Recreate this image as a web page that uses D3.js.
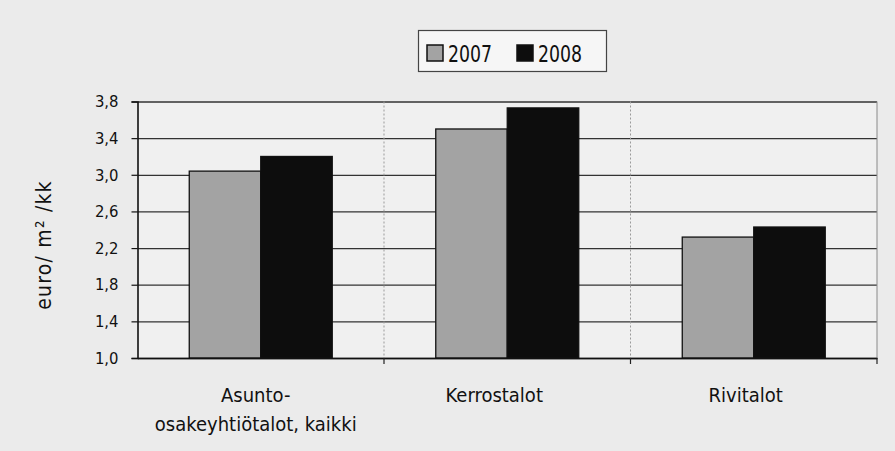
<!DOCTYPE html>
<html>
<head>
<meta charset="utf-8">
<script src="https://cdn.jsdelivr.net/npm/d3@7"></script>
<style>
  html, body { margin: 0; padding: 0; background: #ebebeb; }
  svg { display: block; }
  text { font-family: "DejaVu Sans Condensed", "Liberation Sans Narrow", "Open Sans", sans-serif; fill: #111; }
</style>
</head>
<body>
<svg id="chart" width="895" height="451"></svg>
<script>
const categories = ["Asunto-\nosakeyhtiötalot, kaikki", "Kerrostalot", "Rivitalot"];
const seriesNames = ["2007", "2008"];
const values2007 = [3.04, 3.50, 2.32];
const values2008 = [3.20, 3.73, 2.43];
const yTicks = [1.0, 1.4, 1.8, 2.2, 2.6, 3.0, 3.4, 3.8];
const yLabel = "euro/ m² /kk";

const seriesValues = { "2007": values2007, "2008": values2008 };
const colors = { "2007": "#a3a3a3", "2008": "#0d0d0d" };

const W = 895, H = 451;
const plot = { left: 137.5, right: 877, top: 101.5, bottom: 358 };

const svg = d3.select("#chart");

svg.append("rect").attr("x", 0).attr("y", 0).attr("width", W).attr("height", H).attr("fill", "#ebebeb");

// plot background
svg.append("rect")
  .attr("x", plot.left).attr("y", plot.top)
  .attr("width", plot.right - plot.left).attr("height", plot.bottom - plot.top)
  .attr("fill", "#f0f0f0");

const x0 = d3.scaleBand().domain(categories).range([plot.left, plot.right]).paddingInner(0).paddingOuter(0);
const x1 = d3.scaleBand().domain(seriesNames).range([0, x0.bandwidth()]).paddingInner(0).paddingOuter(0.724);
const y = d3.scaleLinear().domain([1.0, 3.8]).range([plot.bottom, plot.top]);

// horizontal gridlines
const grid = svg.append("g").attr("transform", `translate(${plot.left},0)`)
  .call(d3.axisLeft(y).tickValues(yTicks).tickSize(-(plot.right - plot.left)).tickFormat(""));
grid.select(".domain").remove();
grid.selectAll("line").attr("stroke", "#333").attr("stroke-width", 1.3);

// vertical category separators (dotted)
const seps = categories.slice(1).map(c => x0(c));
svg.append("g").selectAll("line").data(seps).join("line")
  .attr("x1", d => d).attr("x2", d => d)
  .attr("y1", plot.top).attr("y2", plot.bottom)
  .attr("stroke", "#9a9a9a").attr("stroke-width", 1).attr("stroke-dasharray", "2,2");

// right border
svg.append("line").attr("x1", plot.right).attr("x2", plot.right)
  .attr("y1", plot.top).attr("y2", plot.bottom)
  .attr("stroke", "#8a8a8a").attr("stroke-width", 1);

// bars
const groups = svg.append("g").selectAll("g").data(categories).join("g")
  .attr("transform", d => `translate(${x0(d)},0)`);
groups.selectAll("rect")
  .data((c, i) => seriesNames.map(s => ({ s, v: seriesValues[s][i] })))
  .join("rect")
  .attr("x", d => x1(d.s))
  .attr("y", d => y(d.v))
  .attr("width", x1.bandwidth())
  .attr("height", d => y(1.0) - y(d.v))
  .attr("fill", d => colors[d.s])
  .attr("stroke", "#111")
  .attr("stroke-width", 1.3);

// y axis
const yAxis = svg.append("g").attr("transform", `translate(${plot.left},0)`)
  .call(d3.axisLeft(y).tickValues(yTicks).tickSize(6).tickPadding(13)
    .tickFormat(d => d3.format(".1f")(d).replace(".", ",")));
yAxis.select(".domain").attr("stroke", "#111").attr("stroke-width", 1.6);
yAxis.selectAll(".tick line").attr("stroke", "#111").attr("stroke-width", 1.2);
yAxis.selectAll(".tick text").attr("font-size", 16.5).attr("fill", "#222")
  .style("font-family", '"DejaVu Sans Condensed", sans-serif');

// x axis
const xAxis = svg.append("g").attr("transform", `translate(0,${plot.bottom})`)
  .call(d3.axisBottom(x0).tickValues([]).tickSizeOuter(0));
xAxis.select(".domain").attr("stroke", "#111").attr("stroke-width", 1.6);
svg.append("g").selectAll("line").data(seps.concat([plot.right])).join("line")
  .attr("x1", d => d).attr("x2", d => d)
  .attr("y1", plot.bottom).attr("y2", plot.bottom + 6)
  .attr("stroke", "#222").attr("stroke-width", 1.2);

// category labels
const catOffsets = [-5, -13, -8];
svg.append("g").selectAll("text").data(categories).join("text")
  .attr("x", (d, i) => x0(d) + x0.bandwidth() / 2 + catOffsets[i])
  .attr("y", 402)
  .attr("text-anchor", "middle")
  .attr("font-size", 20)
  .each(function (d) {
    const lines = d.split("\n");
    d3.select(this).selectAll("tspan").data(lines).join("tspan")
      .attr("x", d3.select(this).attr("x"))
      .attr("dy", (l, i) => i === 0 ? 0 : 29)
      .text(l => l);
  });

// y label
svg.append("text")
  .attr("transform", "translate(51,245) rotate(-90)")
  .attr("text-anchor", "middle")
  .attr("font-size", 21)
  .attr("letter-spacing", 1.2)
  .attr("fill", "#222")
  .text(yLabel);

// legend
const legend = svg.append("g");
legend.append("rect").attr("x", 418.5).attr("y", 30.5).attr("width", 188).attr("height", 41)
  .attr("fill", "#f6f6f6").attr("stroke", "#444").attr("stroke-width", 1.2);
const legX = [427, 517];
const li = legend.selectAll("g").data(seriesNames).join("g")
  .attr("transform", (d, i) => `translate(${legX[i]},0)`);
li.append("rect").attr("x", 0).attr("y", 45).attr("width", 16).attr("height", 16)
  .attr("fill", d => colors[d]).attr("stroke", "#111").attr("stroke-width", 1.5);
li.append("text").attr("x", 21).attr("y", 62).attr("font-size", 23)
  .attr("textLength", 44).attr("lengthAdjust", "spacingAndGlyphs").text(d => d);
</script>
</body>
</html>
